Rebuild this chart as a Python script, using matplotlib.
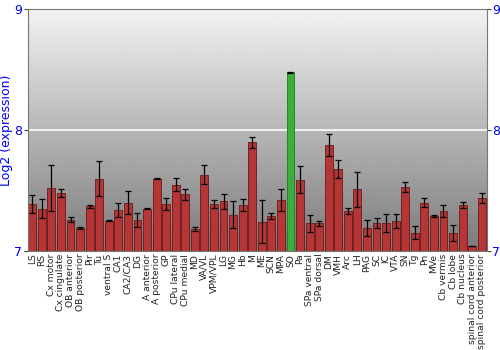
import numpy as np
import matplotlib
matplotlib.use('Agg')
import matplotlib.pyplot as plt

# regions, mean log2 expression and error
regions = ['LS', 'RS', 'Cx motor', 'Cx cingulate', 'OB anterior', 'OB posterior', 'Pir', 'Tu',
           'ventral S', 'CA1', 'CA2/CA3', 'DG', 'A anterior', 'A posterior', 'GP', 'CPu lateral',
           'CPu medial', 'MD', 'VA/VL', 'VPM/VPL', 'LG', 'MG', 'Hb', 'M', 'ME', 'SCN', 'MPA', 'SO',
           'Pa', 'SPa ventral', 'SPa dorsal', 'DM', 'VMH', 'Arc', 'LH', 'PAG', 'SC', 'IC', 'VTA',
           'SN', 'Tg', 'Pn', 'MVe', 'Cb vermis', 'Cb lobe', 'Cb nucleus', 'spinal cord anterior',
           'spinal cord posterior']
expression = [7.39, 7.35, 7.52, 7.48, 7.26, 7.19, 7.37, 7.60,
              7.25, 7.34, 7.40, 7.26, 7.35, 7.60, 7.39, 7.55,
              7.47, 7.18, 7.63, 7.39, 7.41, 7.30, 7.38, 7.90, 7.24, 7.29, 7.42, 8.48,
              7.59, 7.23, 7.23, 7.88, 7.68, 7.33, 7.51, 7.19, 7.23, 7.23, 7.25,
              7.53, 7.15, 7.40, 7.29, 7.33, 7.15, 7.38, 7.04,
              7.44]
error = [0.075, 0.08, 0.19, 0.035, 0.02, 0.012, 0.012, 0.145,
         0.003, 0.058, 0.095, 0.058, 0.003, 0.003, 0.052, 0.052,
         0.045, 0.017, 0.078, 0.032, 0.06, 0.11, 0.048, 0.047, 0.178, 0.025, 0.092, 0.005,
         0.11, 0.07, 0.022, 0.09, 0.076, 0.022, 0.146, 0.069, 0.043, 0.074, 0.058,
         0.04, 0.054, 0.04, 0.011, 0.05, 0.068, 0.026, 0.003,
         0.044]
highlight = 'SO'

fig = plt.figure(figsize=(5, 3.5), dpi=100)
ax = fig.add_axes([0.055, 0.283, 0.918, 0.69])

x = np.arange(len(regions))
ax.set_xlim(-0.5, len(regions) - 0.5)
ax.set_ylim(7, 9)

# gray gradient background, dark at the bottom, light at the top
grad = np.linspace(0.48, 0.95, 256).reshape(-1, 1)
ax.imshow(grad, extent=[-0.5, len(regions) - 0.5, 7, 9], origin='lower', cmap='gray',
          vmin=0, vmax=1, aspect='auto', zorder=0)
ax.axhline(8, color='white', lw=1.2, zorder=1)

colors = ['#3cae3c' if r == highlight else '#b53636' for r in regions]
edges = ['#1f7a1f' if r == highlight else '#6e1616' for r in regions]
ax.bar(x, np.array(expression) - 7, bottom=7, width=0.82, color=colors,
       edgecolor=edges, linewidth=0.6, zorder=2)
ax.errorbar(x, expression, yerr=error, fmt='none', ecolor='black', elinewidth=0.9,
            capsize=2, capthick=0.9, zorder=3)

ax.set_yticks([7, 8, 9])
ax.tick_params(axis='y', colors='#444444', labelcolor='blue', labelsize=9, length=3,
               left=True, right=True, labelleft=True, labelright=True, pad=1)
ax.set_xticks(x)
ax.set_xticklabels(regions, rotation=90, fontsize=6.6, color='#222222')
ax.tick_params(axis='x', length=0, pad=2)
ax.set_ylabel('Log2 (expression)', color='blue', fontsize=9, labelpad=1)

for s in ax.spines.values():
    s.set_color('#777777')

fig.savefig('out.png', dpi=100)
